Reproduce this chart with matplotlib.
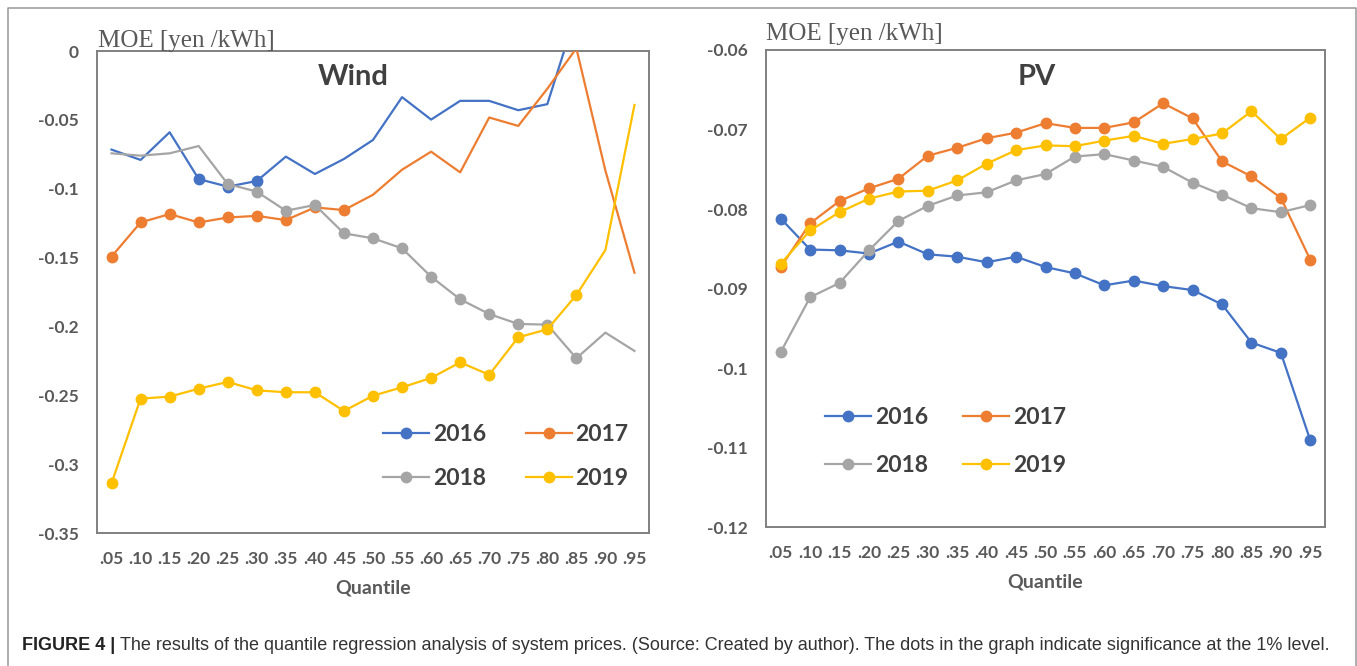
import numpy as np
import matplotlib.pyplot as plt
from matplotlib.lines import Line2D

# quantile categories
quantiles = ['.05', '.10', '.15', '.20', '.25', '.30', '.35', '.40', '.45', '.50',
             '.55', '.60', '.65', '.70', '.75', '.80', '.85', '.90', '.95']
years = ['2016', '2017', '2018', '2019']
colors = ['#4472C4', '#ED7D31', '#A5A5A5', '#FFC000']

# Wind MOE [yen/kWh] (values above 0 fall outside the plotted range)
wind_2016 = [-0.0716, -0.0791, -0.0590, -0.0930, -0.0985, -0.0944, -0.0767, -0.0893, -0.0784, -0.0646,
             -0.0335, -0.0498, -0.0362, -0.0362, -0.0430, -0.0386, 0.028, 0.03, 0.03]
wind_2017 = [-0.1493, -0.1245, -0.1184, -0.1245, -0.1209, -0.1197, -0.1228, -0.1136, -0.1155, -0.1044,
             -0.0862, -0.0731, -0.0881, -0.0483, -0.0544, -0.0274, 0.002, -0.0869, -0.1610]
wind_2018 = [-0.0743, -0.0760, -0.0743, -0.0690, -0.0966, -0.1021, -0.1160, -0.1118, -0.1324, -0.1360,
             -0.1433, -0.1639, -0.1803, -0.1910, -0.1982, -0.1987, -0.2231, -0.2045, -0.2178]
wind_2019 = [-0.3139, -0.2524, -0.2510, -0.2452, -0.2403, -0.2464, -0.2478, -0.2478, -0.2614, -0.2503,
             -0.2442, -0.2374, -0.2261, -0.2351, -0.2079, -0.2021, -0.1772, -0.1445, -0.0392]

# PV MOE [yen/kWh]
pv_2016 = [-0.0812, -0.0851, -0.0852, -0.0856, -0.0841, -0.0857, -0.0860, -0.0867, -0.0860, -0.0873,
           -0.0881, -0.0896, -0.0890, -0.0897, -0.0902, -0.0920, -0.0968, -0.0981, -0.1091]
pv_2017 = [-0.0873, -0.0818, -0.0790, -0.0774, -0.0762, -0.0733, -0.0723, -0.0711, -0.0704, -0.0692,
           -0.0698, -0.0698, -0.0691, -0.0667, -0.0686, -0.0740, -0.0759, -0.0786, -0.0864]
pv_2018 = [-0.0980, -0.0911, -0.0893, -0.0852, -0.0815, -0.0796, -0.0783, -0.0779, -0.0764, -0.0756,
           -0.0734, -0.0731, -0.0739, -0.0747, -0.0767, -0.0782, -0.0799, -0.0804, -0.0795]
pv_2019 = [-0.0869, -0.0827, -0.0804, -0.0787, -0.0778, -0.0777, -0.0764, -0.0743, -0.0726, -0.0720,
           -0.0721, -0.0714, -0.0708, -0.0718, -0.0712, -0.0705, -0.0677, -0.0712, -0.0685]

# indices of quantiles significant at the 1% level (drawn with dots)
wind_sig_2016 = [3, 4, 5]
wind_sig_2017 = [0, 1, 2, 3, 4, 5, 6, 7, 8]
wind_sig_2018 = [4, 5, 6, 7, 8, 9, 10, 11, 12, 13, 14, 15, 16]
wind_sig_2019 = list(range(17))
pv_sig_all = list(range(19))

W, H = 1357, 666
fig = plt.figure(figsize=(W / 100, H / 100), dpi=100)

tick_font = dict(family='Lato', weight='bold', color='#595959')


def px(x, y):
    return x / W, 1 - y / H


def panel(rect, series, sigs, ylim, ystep, legend_xy, labelspacing, colspacing):
    ax = fig.add_axes(rect)
    x = np.arange(len(quantiles))
    handles = []
    for i, (vals, sig, col) in enumerate(zip(series, sigs, colors)):
        ax.plot(x, vals, color=col, lw=1.6, zorder=2 + i)
        ax.plot(x[sig], np.array(vals)[sig], ls='none', marker='o', ms=7.5,
                color=col, zorder=2 + i)
        handles.append(Line2D([], [], color=col, lw=1.6, marker='o', ms=7.5))
    ax.set_xlim(-0.5, len(quantiles) - 0.5)
    ax.set_ylim(*ylim)
    ticks = np.round(np.arange(ylim[0], ylim[1] + ystep / 2, ystep), 4)
    ax.set_yticks(ticks)
    ax.set_yticklabels(['0' if t == 0 else f'{t:g}' for t in ticks])
    ax.set_xticks(x)
    ax.set_xticklabels(quantiles)
    ax.tick_params(length=0, labelsize=12.5, pad=13)
    for lab in ax.get_xticklabels() + ax.get_yticklabels():
        lab.set(**tick_font)
    for sp in ax.spines.values():
        sp.set_color('#808080')
        sp.set_linewidth(1.4)
    order = [0, 2, 1, 3]
    ax.legend([handles[k] for k in order], [years[k] for k in order], ncol=2,
              loc='upper left', bbox_to_anchor=px(*legend_xy), bbox_transform=fig.transFigure,
              frameon=False, borderpad=0, handlelength=2.0, handletextpad=0.15,
              columnspacing=colspacing, labelspacing=labelspacing,
              prop=dict(family='Lato', weight='bold', size=16.5), labelcolor='#404040')
    return ax


panel([97 / W, 1 - 533 / H, 552 / W, 482 / H],
      [wind_2016, wind_2017, wind_2018, wind_2019],
      [wind_sig_2016, wind_sig_2017, wind_sig_2018, wind_sig_2019],
      (-0.35, 0), 0.05, (372, 413), 1.0, 1.75)
panel([766 / W, 1 - 527 / H, 559 / W, 477 / H],
      [pv_2016, pv_2017, pv_2018, pv_2019],
      [pv_sig_all] * 4,
      (-0.12, -0.06), 0.01, (814, 396), 1.15, 1.55)

# panel titles and unit labels
fig.text(*px(353, 77), 'Wind', ha='center', va='center', family='Lato', weight='bold',
         size=21, color='#404040')
fig.text(*px(1037, 77), 'PV', ha='center', va='center', family='Lato', weight='bold',
         size=21, color='#404040')
fig.text(*px(98, 47), 'MOE [yen /kWh]', ha='left', va='baseline', family='Liberation Serif',
         size=18, color='#595959')
fig.text(*px(766, 40), 'MOE [yen /kWh]', ha='left', va='baseline', family='Liberation Serif',
         size=18, color='#595959')
fig.text(*px(373, 588), 'Quantile', ha='center', va='center', size=14, **tick_font)
fig.text(*px(1045, 582), 'Quantile', ha='center', va='center', size=14, **tick_font)

# outer frame (left, top, right)
fig.add_artist(Line2D([7.5 / W, 7.5 / W, 1355.5 / W, 1355.5 / W],
                      [0, 1 - 7.5 / H, 1 - 7.5 / H, 0],
                      transform=fig.transFigure, color='#999999', lw=1.1))

# caption
renderer = fig.canvas.get_renderer()
cap_size = 11.5
t1 = fig.text(*px(22, 646), 'FIGURE 4 |', ha='left', va='center', family='Liberation Sans',
              weight='bold', size=cap_size, color='#222222')
rest = ('The results of the quantile regression analysis of system prices. (Source: Created by '
        'author). The dots in the graph indicate significance at the 1% level.')
bb = t1.get_window_extent(renderer)
t2 = fig.text((bb.x1 + 5) / W, 1 - 646 / H, rest, ha='left', va='center',
              family='Liberation Sans', size=cap_size, color='#333333')
bb2 = t2.get_window_extent(renderer)
scale = (1338 - 22) / (bb2.x1 - bb.x0)
t1.set_size(cap_size * scale)
t2.set_size(cap_size * scale)
bb = t1.get_window_extent(renderer)
t2.set_x((bb.x1 + 5) / W)

fig.savefig('out.png', dpi=100)
